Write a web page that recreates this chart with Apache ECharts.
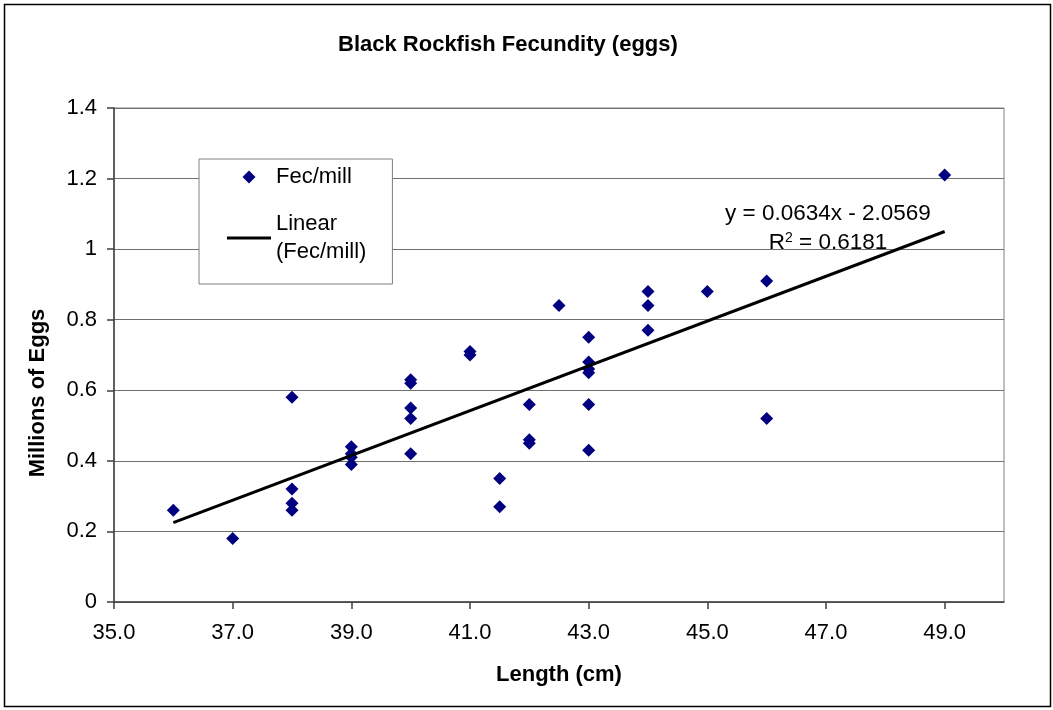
<!DOCTYPE html>
<html>
<head>
<meta charset="utf-8">
<script src="https://cdn.jsdelivr.net/npm/echarts@6/dist/echarts.min.js"></script>
<style>
  html, body { margin: 0; padding: 0; background: #fff; }
  #chart { width: 1053px; height: 710px; }
</style>
</head>
<body>
<div id="chart"></div>
<script>
// fish length (cm) and fecundity (millions of eggs)
var lengths = [36, 37, 38, 38, 38, 38, 39, 39, 39, 39,
               40, 40, 40, 40, 40, 41, 41, 41.5, 41.5,
               42, 42, 42, 42.5, 43, 43, 43, 43, 43, 43,
               44, 44, 44, 45, 46, 46, 49];
var eggs = [0.26, 0.18, 0.58, 0.32, 0.28, 0.26, 0.44, 0.42, 0.41, 0.39,
            0.63, 0.62, 0.55, 0.52, 0.42, 0.71, 0.70, 0.35, 0.27,
            0.56, 0.46, 0.45, 0.84, 0.75, 0.68, 0.66, 0.65, 0.56, 0.43,
            0.88, 0.84, 0.77, 0.88, 0.91, 0.52, 1.21];
// trend line end points (as drawn)
var trendX = [36, 49];
var trendY = [0.225, 1.05];
// x tick labels
var xTicks = [35, 37, 39, 41, 43, 45, 47, 49];

var FONT = "'Liberation Sans', Arial, sans-serif";

var scatterData = lengths.map(function (x, i) { return [x, eggs[i]]; });
var trendData = trendX.map(function (x, i) { return [x, trendY[i]]; });

var myChart = echarts.init(document.getElementById('chart'));
var option = {
  animation: false,
  backgroundColor: '#fff',
  textStyle: { fontFamily: FONT },
  title: {
    text: 'Black Rockfish Fecundity (eggs)',
    left: 333,
    top: 29,
    textStyle: { fontFamily: FONT, fontSize: 22, fontWeight: 'bold', color: '#000' }
  },
  legend: {
    orient: 'vertical',
    left: 199,
    top: 159,
    padding: [4, 26, 4, 28],
    backgroundColor: '#fff',
    borderColor: '#808080',
    borderWidth: 1,
    itemWidth: 44,
    itemHeight: 13,
    itemGap: 5,
    selectedMode: false,
    textStyle: { fontFamily: FONT, fontSize: 22, color: '#000', lineHeight: 28 },
    formatter: function (name) {
      return name === 'Linear (Fec/mill)' ? 'Linear\n(Fec/mill)' : name;
    },
    data: [
      { name: 'Fec/mill', icon: 'path://M6,0L12,6L6,12L0,6Z', itemStyle: { color: '#000080', opacity: 1 } },
      {
        name: 'Linear (Fec/mill)',
        icon: 'path://M0,0L44,0L44,3L0,3Z',
        textStyle: { padding: [28, 0, 0, 0] }
      }
    ]
  },
  grid: {
    left: 114, right: 49, top: 108, bottom: 108,
    show: true,
    backgroundColor: '#fff',
    borderColor: '#808080',
    borderWidth: 1
  },
  xAxis: {
    type: 'value',
    min: 35,
    max: 50,
    name: 'Length (cm)',
    nameLocation: 'middle',
    nameGap: 62,
    nameTextStyle: { fontFamily: FONT, fontSize: 22, fontWeight: 'bold', color: '#000' },
    axisLine: { show: true, onZero: false, lineStyle: { color: '#404040', width: 1.5 } },
    axisTick: { show: true, length: 7, customValues: xTicks, lineStyle: { color: '#404040', width: 1.5 } },
    axisLabel: {
      customValues: xTicks,
      formatter: function (v) { return v.toFixed(1); },
      fontFamily: FONT, fontSize: 22, color: '#000', margin: 20
    },
    splitLine: { show: false }
  },
  yAxis: {
    type: 'value',
    min: 0,
    max: 1.4,
    interval: 0.2,
    name: 'Millions of Eggs',
    nameLocation: 'middle',
    nameGap: 65,
    nameTextStyle: {
      fontFamily: FONT, fontSize: 22, fontWeight: 'bold', color: '#000',
      padding: [0, 76, 0, 0]
    },
    axisLine: { show: true, lineStyle: { color: '#404040', width: 1.5 } },
    axisTick: { show: true, length: 7, lineStyle: { color: '#404040', width: 1.5 } },
    axisLabel: { fontFamily: FONT, fontSize: 22, color: '#000', margin: 17 },
    splitLine: { show: true, lineStyle: { color: '#707070', width: 1 } }
  },
  series: [
    {
      name: 'Fec/mill',
      type: 'scatter',
      symbol: 'diamond',
      symbolSize: 13,
      itemStyle: { color: '#000080', opacity: 1 },
      data: scatterData,
      z: 3
    },
    {
      name: 'Linear (Fec/mill)',
      type: 'line',
      symbol: 'none',
      itemStyle: { color: '#000' },
      lineStyle: { color: '#000', width: 3 },
      data: trendData,
      z: 4
    }
  ],
  graphic: [
    {
      type: 'rect',
      silent: true,
      z: 100,
      shape: { x: 4.5, y: 4.5, width: 1046, height: 702 },
      style: { fill: 'none', stroke: '#000', lineWidth: 1.5 }
    },
    {
      type: 'text',
      silent: true,
      z: 100,
      x: 828,
      y: 214,
      style: {
        text: 'y = 0.0634x - 2.0569',
        fontFamily: FONT, fontSize: 22.5, fill: '#000',
        align: 'center', verticalAlign: 'middle'
      }
    },
    {
      type: 'text',
      silent: true,
      z: 100,
      x: 828,
      y: 243,
      style: {
        text: 'R{sup|2} = 0.6181',
        fontFamily: FONT, fontSize: 22.5, fill: '#000',
        align: 'center', verticalAlign: 'middle',
        rich: {
          sup: { fontFamily: FONT, fontSize: 14, fill: '#000', verticalAlign: 'top', padding: [0, 0, 8, 0] }
        }
      }
    }
  ]
};
myChart.setOption(option);
</script>
</body>
</html>
